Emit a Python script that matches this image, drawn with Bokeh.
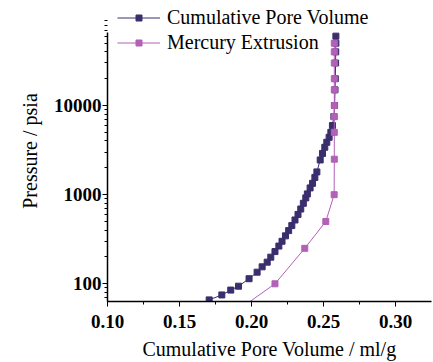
from bokeh.plotting import figure
from bokeh.models import (Legend, LegendItem, FixedTicker, NumeralTickFormatter,
                          SingleIntervalTicker, Range1d)
from bokeh.embed import file_html
from bokeh.resources import INLINE

# Cumulative Pore Volume (intrusion)
pore_pressure = [58, 66, 75, 85, 94, 114, 135, 155, 175, 199, 230, 265, 300, 345, 395,
                 450, 520, 600, 690, 800, 920, 1020, 1190, 1340, 1560, 1800, 2450, 2900,
                 3400, 3870, 4400, 5000, 5960, 7520, 10000, 15000, 20000, 30000, 40000,
                 50000, 60000]
pore_volume = [0.1680, 0.1706, 0.1794, 0.1856, 0.1910, 0.1983, 0.2039, 0.2074, 0.2109,
               0.2134, 0.2163, 0.2190, 0.2212, 0.2236, 0.2258, 0.2280, 0.2302, 0.2323,
               0.2342, 0.2360, 0.2377, 0.2388, 0.2407, 0.2424, 0.2440, 0.2454, 0.2477,
               0.2493, 0.2509, 0.2523, 0.2539, 0.2551, 0.2562, 0.2572, 0.2577, 0.2580,
               0.2582, 0.2584, 0.2585, 0.2586, 0.2586]

# Mercury Extrusion
ext_pressure = [50, 100, 250, 500, 1000, 2500, 5000, 7500, 10000, 15000, 20000,
                30000, 40000, 50000]
ext_volume = [0.1900, 0.2163, 0.2370, 0.2516, 0.2574, 0.2575, 0.2575, 0.2575, 0.2575,
              0.2575, 0.2575, 0.2575, 0.2575, 0.2575]

x_ticks = [0.10, 0.15, 0.20, 0.25, 0.30]
y_ticks = [100, 1000, 10000]
y_minor = [m * 10 ** e for e in range(1, 5) for m in range(2, 10)]
y_axis_min, y_axis_max = 63.3, 66000

DARK = "#3A2E6D"
MAG = "#B161B6"
SERIF = "Liberation Serif"

p = figure(width=433, height=362, output_backend="svg", toolbar_location=None,
           y_axis_type="log", x_range=Range1d(0.1, 0.325),
           y_range=Range1d(y_axis_min, 150700),
           min_border_left=107, min_border_right=2, min_border_top=0, min_border_bottom=61,
           background_fill_color="white", border_fill_color="white")
p.outline_line_color = None
p.grid.visible = False

l1 = p.line(pore_volume, pore_pressure, line_color=DARK, line_width=1)
s1 = p.scatter(pore_volume, pore_pressure, marker="square", size=6,
               fill_color=DARK, line_color=DARK)
l2 = p.line(ext_volume, ext_pressure, line_color=MAG, line_width=1)
s2 = p.scatter(ext_volume, ext_pressure, marker="square", size=6,
               fill_color=MAG, line_color=MAG)

for ax in (p.xaxis[0], p.yaxis[0]):
    ax.axis_line_width = 1.5
    ax.axis_line_color = "black"
    ax.major_tick_line_color = "black"
    ax.minor_tick_line_color = "black"
    ax.major_tick_line_width = 1
    ax.major_tick_in = 0
    ax.major_tick_out = 5
    ax.minor_tick_in = 0
    ax.minor_tick_out = 3
    ax.major_label_text_font = SERIF
    ax.major_label_text_font_style = "bold"
    ax.major_label_text_font_size = "19px"
    ax.major_label_text_color = "black"
    ax.axis_label_text_font = SERIF
    ax.axis_label_text_font_style = "normal"
    ax.axis_label_text_font_size = "20px"
    ax.axis_label_text_color = "black"

p.xaxis.ticker = SingleIntervalTicker(interval=0.05, num_minor_ticks=2)
p.xaxis.formatter = NumeralTickFormatter(format="0.00")
p.xaxis.axis_label = "Cumulative Pore Volume / ml/g"
p.xaxis.major_label_standoff = 8
p.xaxis.axis_label_standoff = 7

p.yaxis.bounds = (y_axis_min, y_axis_max)
p.yaxis.ticker = FixedTicker(ticks=y_ticks, minor_ticks=y_minor)
p.yaxis.formatter = NumeralTickFormatter(format="0")
p.yaxis.axis_label = "Pressure / psia"
p.yaxis.major_label_standoff = 1
p.yaxis.axis_label_standoff = 10

legend = Legend(items=[LegendItem(label="Cumulative Pore Volume", renderers=[l1, s1]),
                       LegendItem(label="Mercury Extrusion", renderers=[l2, s2])],
                location=(10, 246), glyph_width=43, glyph_height=15, label_height=25,
                label_standoff=7, spacing=0, padding=0, margin=0,
                border_line_color=None, background_fill_alpha=0,
                label_text_font=SERIF, label_text_font_size="20px",
                label_text_color="black")
p.add_layout(legend, "center")

open("out.html", "w").write(file_html(p, INLINE))
